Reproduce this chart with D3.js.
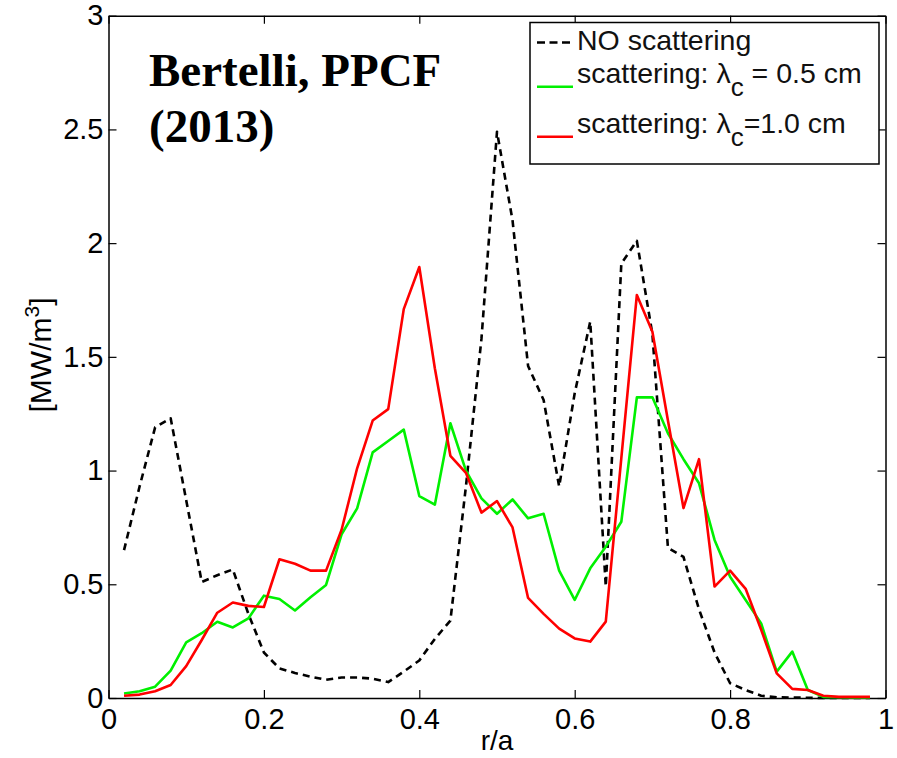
<!DOCTYPE html>
<html>
<head>
<meta charset="utf-8">
<script src="https://cdn.jsdelivr.net/npm/d3@7"></script>
<style>
  body { margin: 0; background: #fff; }
  svg { display: block; }
  .tick text { font-family: "Liberation Sans", Arial, sans-serif; fill: #000; }
</style>
</head>
<body>
<svg id="chart" width="897" height="758"></svg>
<script>
// r/a sample points
var rA = [0.02,0.04,0.06,0.08,0.10,0.12,0.14,0.16,0.18,0.20,
          0.22,0.24,0.26,0.28,0.30,0.32,0.34,0.36,0.38,0.40,
          0.42,0.44,0.46,0.48,0.50,0.52,0.54,0.56,0.58,0.60,
          0.62,0.64,0.66,0.68,0.70,0.72,0.74,0.76,0.78,0.80,
          0.82,0.84,0.86,0.88,0.90,0.92,0.94,0.96,0.98]

// power density [MW/m^3]
var noScat = [0.65,0.93,1.19,1.23,0.87,0.51,0.54,0.565,0.37,0.20,
              0.13,0.11,0.094,0.08,0.09,0.09,0.085,0.07,0.116,0.165,
              0.26,0.34,0.93,1.58,2.49,2.10,1.46,1.31,0.93,1.34,
              1.655,0.49,1.91,2.01,1.60,0.66,0.62,0.39,0.20,0.065,
              0.035,0.01,0.003,0.002,0.001,0,0,0,0]
var scat05 = [0.02,0.03,0.05,0.12,0.245,0.285,0.335,0.31,0.35,0.45,
              0.435,0.385,0.443,0.497,0.72,0.834,1.08,1.13,1.18,0.888,
              0.85,1.208,1.0,0.878,0.81,0.873,0.79,0.81,0.56,0.431,
              0.57,0.665,0.775,1.322,1.322,1.164,1.05,0.944,0.695,0.533,
              0.431,0.328,0.116,0.204,0.035,0.005,0.003,0.002,0.002]
var scat10 = [0.01,0.015,0.03,0.057,0.14,0.255,0.375,0.42,0.405,0.40,
              0.61,0.59,0.56,0.56,0.74,1.01,1.22,1.27,1.71,1.895,
              1.45,1.065,0.99,0.815,0.866,0.75,0.44,0.37,0.305,0.262,
              0.248,0.336,1.055,1.772,1.61,1.22,0.835,1.05,0.49,0.56,
              0.48,0.30,0.108,0.04,0.035,0.01,0.005,0.005,0.005]

var xTicks = [0,0.2,0.4,0.6,0.8,1]
var yTicks = [0,0.5,1,1.5,2,2.5,3]

var seriesNames = ['NO scattering', 'scattering: λ|c| = 0.5 cm', 'scattering: λ|c|=1.0 cm']
var seriesColors = ['#000', '#00f000', '#ff0000']

var svg = d3.select('#chart')
var x = d3.scaleLinear().domain([0, 1]).range([108.5, 885.5])
var y = d3.scaleLinear().domain([0, 3]).range([698, 15.7])

var fmt = function(d) { return d3.format('')(d) }

// axes, ticks pointing inwards
svg.append('g').attr('transform', 'translate(0,698)')
    .call(d3.axisBottom(x).tickValues(xTicks).tickFormat(fmt).tickSizeInner(-8).tickSizeOuter(0).tickPadding(10))
svg.append('g').attr('transform', 'translate(108.5,0)')
    .call(d3.axisLeft(y).tickValues(yTicks).tickFormat(fmt).tickSizeInner(-8).tickSizeOuter(0).tickPadding(5))
svg.append('g').attr('transform', 'translate(0,15.7)')
    .call(d3.axisTop(x).tickValues(xTicks).tickFormat('').tickSizeInner(-8).tickSizeOuter(0))
svg.append('g').attr('transform', 'translate(885.5,0)')
    .call(d3.axisRight(y).tickValues(yTicks).tickFormat('').tickSizeInner(-8).tickSizeOuter(0))
svg.selectAll('.domain').attr('stroke', '#000').attr('stroke-width', 1.5)
svg.selectAll('.tick line').attr('stroke', '#000').attr('stroke-width', 1.2)
svg.selectAll('.tick text').style('font-size', '29px')

var line = d3.line()
    .x(function(d) { return x(d[0]) })
    .y(function(d) { return y(d[1]) })

var series = [noScat, scat05, scat10]
series.forEach(function(vals, i) {
    svg.append('path')
        .datum(rA.map(function(r, j) { return [r, vals[j]] }))
        .attr('d', line)
        .attr('fill', 'none')
        .attr('stroke', seriesColors[i])
        .attr('stroke-width', 2.6)
        .attr('stroke-linejoin', 'round')
        .attr('stroke-dasharray', i == 0 ? '7,5' : null)
})

// axis labels
svg.append('text')
    .attr('x', 497).attr('y', 750)
    .attr('text-anchor', 'middle')
    .style('font-family', '"Liberation Sans", Arial, sans-serif')
    .style('font-size', '28px')
    .text('r/a')
var yl = svg.append('text')
    .attr('transform', 'translate(51,355) rotate(-90)')
    .attr('text-anchor', 'middle')
    .style('font-family', '"Liberation Sans", Arial, sans-serif')
    .style('font-size', '30px')
yl.append('tspan').text('[MW/m')
yl.append('tspan').attr('dy', -12).style('font-size', '21px').text('3')
yl.append('tspan').attr('dy', 12).text(']')

// annotation
var note = svg.append('text')
    .style('font-family', '"Liberation Serif", "Times New Roman", serif')
    .style('font-weight', 'bold')
    .style('font-size', '47px')
note.append('tspan').attr('x', 149).attr('y', 86).text('Bertelli, PPCF')
note.append('tspan').attr('x', 149).attr('y', 142).text('(2013)')

// legend
var lg = svg.append('g')
lg.append('rect')
    .attr('x', 530).attr('y', 22.5).attr('width', 349).attr('height', 141.5)
    .attr('fill', '#fff').attr('stroke', '#000').attr('stroke-width', 1.5)
var rowText = [50, 83, 133]
var rowLine = [42.5, 86.7, 136.7]
seriesNames.forEach(function(name, i) {
    lg.append('line')
        .attr('x1', 537).attr('x2', 573)
        .attr('y1', rowLine[i]).attr('y2', rowLine[i])
        .attr('stroke', seriesColors[i])
        .attr('stroke-width', 2.6)
        .attr('stroke-dasharray', i == 0 ? '8,4.5' : null)
    var parts = name.split('|')
    var t = lg.append('text')
        .attr('x', 577).attr('y', rowText[i])
        .style('font-family', '"Liberation Sans", Arial, sans-serif')
        .style('font-size', '28.5px')
        .attr('fill', '#111')
    t.append('tspan').text(parts[0])
    if (parts.length > 1) {
        t.append('tspan').attr('dy', 13).style('font-size', '26px').text(parts[1])
        t.append('tspan').attr('dy', -13).text(parts[2])
    }
})
</script>
</body>
</html>
